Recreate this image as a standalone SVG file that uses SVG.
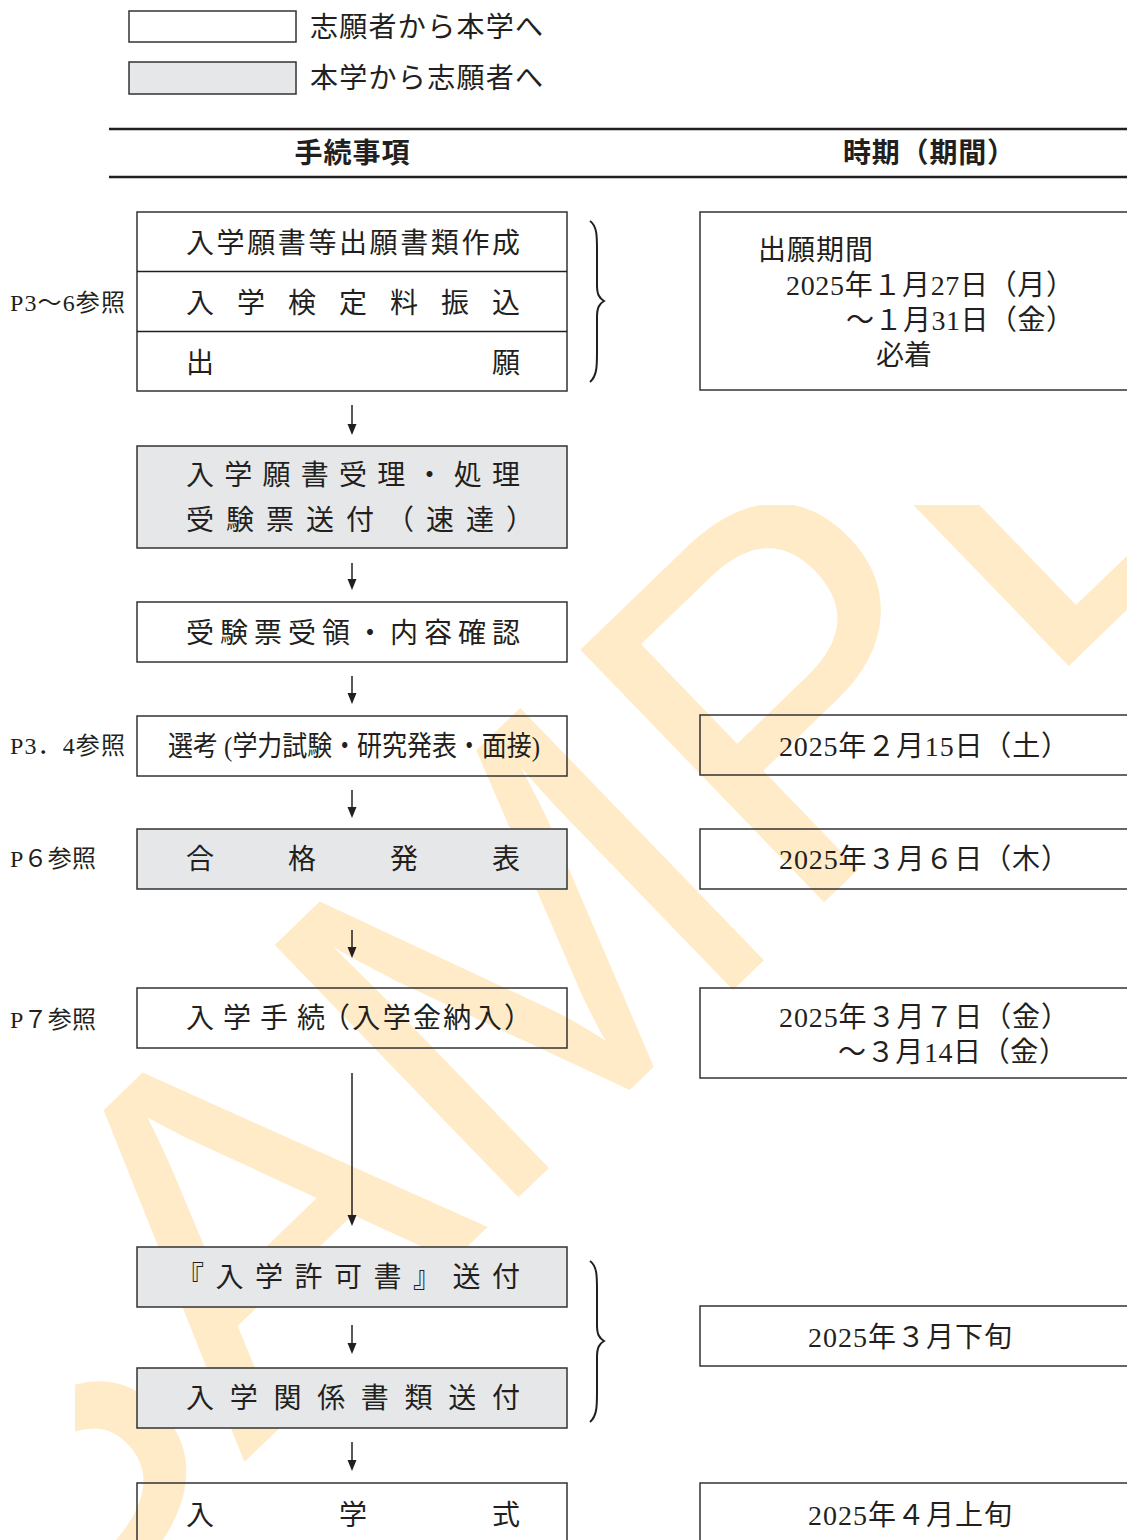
<svg xmlns="http://www.w3.org/2000/svg" width="1127" height="1540" viewBox="0 0 1127 1540">
<style>
.b{fill:none;stroke:#333;stroke-width:1.5}
.g{fill:#e6e7e9;stroke:#333;stroke-width:1.5}
.t{font-family:"Liberation Serif","Noto Sans CJK JP",serif;font-size:28px;fill:#231f20}
.s{font-size:24px}
.h{font-family:"Noto Sans CJK JP",sans-serif;font-weight:bold;font-size:28px;fill:#231f20;text-anchor:middle}
.wm{font-family:"Liberation Sans",sans-serif;font-size:510px;fill:#ffebc7}
.ln{stroke:#231f20;stroke-width:1.5;fill:none}
.ah{fill:#231f20}
.br{fill:none;stroke:#231f20;stroke-width:2}
</style>
<defs>
<clipPath id="wmclip"><rect x="75" y="505" width="1060" height="1040"/></clipPath>
</defs>
<rect width="1127" height="1540" fill="#fff"/>
<g id="watermark" clip-path="url(#wmclip)">
<text class="wm" transform="translate(-1,1699) rotate(-44)" x="0" y="0">SAMPLE</text>
</g>
<g id="legend">
<rect class="b" x="129" y="11" width="167" height="31"/>
<text class="t" x="310" y="37" textLength="233">志願者から本学へ</text>
<rect class="g" x="129" y="62" width="167" height="32"/>
<text class="t" x="310" y="88" textLength="233">本学から志願者へ</text>
</g>
<g id="header">
<line x1="109" y1="129" x2="1127" y2="129" stroke="#231f20" stroke-width="2.5"/>
<line x1="109" y1="177" x2="1127" y2="177" stroke="#231f20" stroke-width="2.5"/>
<text class="h" x="352" y="163" textLength="115">手続事項</text>
<text class="h" x="929" y="163" textLength="172">時期（期間）</text>
</g>
<g id="labels">
<text class="t s" x="10" y="311" textLength="115">P3～6参照</text>
<text class="t s" x="10" y="754" textLength="115">P3．4参照</text>
<text class="t s" x="10" y="867" textLength="86">P６参照</text>
<text class="t s" x="10" y="1028" textLength="86">P７参照</text>
</g>
<g id="n1">
<rect class="b" x="137" y="212" width="430" height="179"/>
<line class="ln" x1="137" y1="271.5" x2="567" y2="271.5"/>
<line class="ln" x1="137" y1="331.5" x2="567" y2="331.5"/>
<text class="t" x="186" y="253" textLength="334">入学願書等出願書類作成</text>
<text class="t" x="186" y="313" textLength="334">入学検定料振込</text>
<text class="t" x="186" y="373" textLength="334">出願</text>
</g>
<g id="n2">
<rect class="g" x="137" y="446" width="430" height="102"/>
<text class="t" x="186" y="485" textLength="334">入学願書受理・処理</text>
<text class="t" x="186" y="530" textLength="348">受験票送付（速達）</text>
</g>
<g id="n3">
<rect class="b" x="137" y="602" width="430" height="60"/>
<text class="t" x="186" y="643" textLength="334">受験票受領・内容確認</text>
</g>
<g id="n4">
<rect class="b" x="137" y="716" width="430" height="60"/>
<text class="t" x="168" y="756" textLength="372" lengthAdjust="spacingAndGlyphs">選考 (学力試験・研究発表・面接)</text>
</g>
<g id="n5">
<rect class="g" x="137" y="829" width="430" height="60"/>
<text class="t" x="186" y="869" textLength="334">合格発表</text>
</g>
<g id="n6">
<rect class="b" x="137" y="988" width="430" height="60"/>
<text class="t" x="186" y="1028" textLength="139">入学手続</text>
<text class="t" x="322" y="1028" textLength="210">（入学金納入）</text>
</g>
<g id="n7">
<rect class="g" x="137" y="1247" width="430" height="60"/>
<text class="t" x="176" y="1287" textLength="344">『入学許可書』送付</text>
</g>
<g id="n8">
<rect class="g" x="137" y="1368" width="430" height="60"/>
<text class="t" x="186" y="1408" textLength="334">入学関係書類送付</text>
</g>
<g id="n9">
<rect class="b" x="137" y="1483" width="430" height="70"/>
<text class="t" x="186" y="1525" textLength="334">入学式</text>
</g>
<g id="r1">
<rect class="b" x="700" y="212" width="440" height="178"/>
<text class="t" x="758" y="260" textLength="115">出願期間</text>
<text class="t" x="786" y="295" textLength="288">2025年１月27日（月）</text>
<text class="t" x="846" y="330" textLength="228">～１月31日（金）</text>
<text class="t" x="876" y="365" textLength="56">必着</text>
</g>
<g id="r2">
<rect class="b" x="700" y="715" width="440" height="60"/>
<text class="t" x="779" y="756" textLength="290">2025年２月15日（土）</text>
</g>
<g id="r3">
<rect class="b" x="700" y="829" width="440" height="60"/>
<text class="t" x="779" y="869" textLength="290">2025年３月６日（木）</text>
</g>
<g id="r4">
<rect class="b" x="700" y="988" width="440" height="90"/>
<text class="t" x="779" y="1027" textLength="290">2025年３月７日（金）</text>
<text class="t" x="838" y="1062" textLength="229">～３月14日（金）</text>
</g>
<g id="r5">
<rect class="b" x="700" y="1306" width="440" height="60"/>
<text class="t" x="808" y="1347" textLength="204">2025年３月下旬</text>
</g>
<g id="r6">
<rect class="b" x="700" y="1483" width="440" height="70"/>
<text class="t" x="808" y="1525" textLength="204">2025年４月上旬</text>
</g>
<g id="connectors">
<line class="ln" x1="352" y1="405" x2="352" y2="426"/><polygon class="ah" points="347.5,424 356.5,424 352,435"/>
<line class="ln" x1="352" y1="563" x2="352" y2="581"/><polygon class="ah" points="347.5,579 356.5,579 352,590"/>
<line class="ln" x1="352" y1="676" x2="352" y2="695"/><polygon class="ah" points="347.5,693 356.5,693 352,704"/>
<line class="ln" x1="352" y1="790" x2="352" y2="809"/><polygon class="ah" points="347.5,807 356.5,807 352,818"/>
<line class="ln" x1="352" y1="930" x2="352" y2="949"/><polygon class="ah" points="347.5,947 356.5,947 352,958"/>
<line class="ln" x1="352" y1="1073" x2="352" y2="1217"/><polygon class="ah" points="347.5,1215 356.5,1215 352,1226"/>
<line class="ln" x1="352" y1="1325" x2="352" y2="1345"/><polygon class="ah" points="347.5,1343 356.5,1343 352,1354"/>
<line class="ln" x1="352" y1="1442" x2="352" y2="1462"/><polygon class="ah" points="347.5,1460 356.5,1460 352,1471"/>
<path class="br" d="M590,221 C597,226 597,236 597,250 L597,285 C597,294 599,298 604,301 C599,304 597,308 597,317 L597,352 C597,366 597,376 590,382"/>
<path class="br" d="M590,1261 C597,1266 597,1276 597,1290 L597,1325 C597,1334 599,1338 604,1341 C599,1344 597,1348 597,1357 L597,1392 C597,1406 597,1416 590,1422"/>
</g>
</svg>
